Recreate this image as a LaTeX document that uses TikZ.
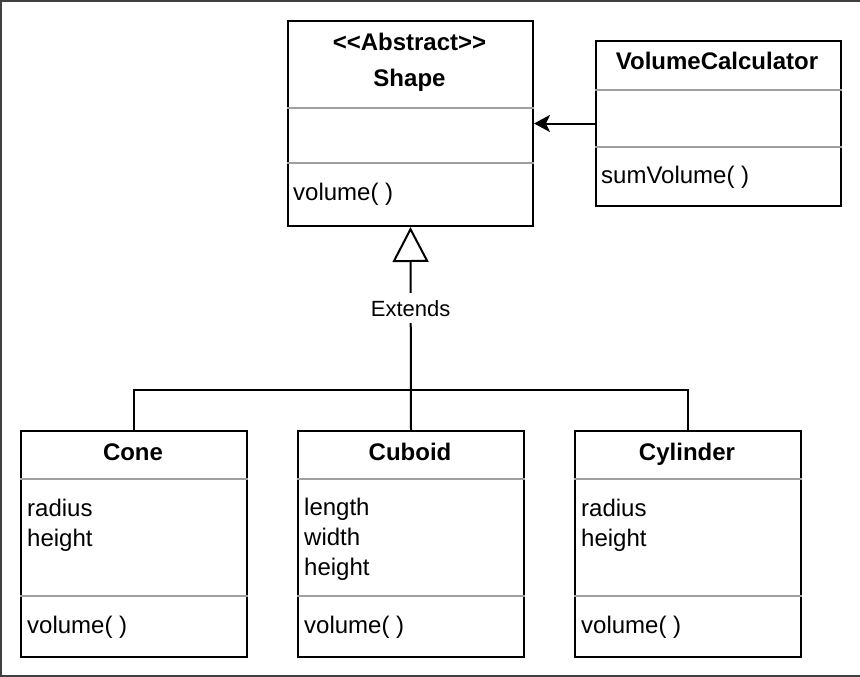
\documentclass[tikz,border=0pt]{standalone}
\usepackage{fontspec}
\setmainfont{Liberation Sans}[Ligatures=TeXOff]
\usetikzlibrary{positioning, arrows.meta, calc}

\begin{document}
\begin{tikzpicture}[
    x=1pt, y=-1pt,
    font=\fontsize{24}{30}\selectfont,
    classbox/.style={draw=black, line width=2pt, anchor=north west, inner sep=0pt},
    classname/.style={font=\fontsize{24}{36}\selectfont\bfseries, align=center, anchor=base},
    members/.style={align=left, anchor=base west, inner sep=0pt},
    divider/.style={draw=gray!75, line width=2pt},
    link/.style={draw=black, line width=2pt}
]
\useasboundingbox (0,0) rectangle (860,677);
\draw[line width=2pt, draw=black!75] (860,1) -- (1,1) -- (1,676) -- (860,676);

% classes
\node[classbox, minimum width=245pt, minimum height=205pt](shape) at (287,20) {};
\node[classbox, minimum width=245pt, minimum height=165pt](calc) at (595,40) {};
\node[classbox, minimum width=226pt, minimum height=226pt](cone) at (20,430) {};
\node[classbox, minimum width=226pt, minimum height=226pt](cuboid) at (297,430) {};
\node[classbox, minimum width=226pt, minimum height=226pt](cyl) at (574,430) {};

% dividers
\draw[divider] ([yshift=-88pt]shape.north west) -- ([yshift=-88pt]shape.north east);
\draw[divider] ([yshift=-143pt]shape.north west) -- ([yshift=-143pt]shape.north east);
\draw[divider] ([yshift=-50pt]calc.north west) -- ([yshift=-50pt]calc.north east);
\draw[divider] ([yshift=-107pt]calc.north west) -- ([yshift=-107pt]calc.north east);
\foreach \c in {cone, cuboid, cyl} {
    \draw[divider] ([yshift=-49pt]\c.north west) -- ([yshift=-49pt]\c.north east);
    \draw[divider] ([yshift=-166pt]\c.north west) -- ([yshift=-166pt]\c.north east);
}

% texts (base = last line)
\node[classname](shape_t) at (409.5,87) {<<Abstract>>\\Shape};
\node[classname](calc_t) at (717,70) {VolumeCalculator};
\node[classname](cone_t) at (133,460) {Cone};
\node[classname](cuboid_t) at (410,460) {Cuboid};
\node[classname](cyl_t) at (687,460) {Cylinder};

\node[members](shape_m) at (293,200) {volume( )};
\node[members](calc_m) at (601,183) {sumVolume( )};
\node[members](cone_a) at (27,546) {radius\\height};
\node[members](cone_m) at (27,633) {volume( )};
\node[members](cuboid_a) at (304,575) {length\\width\\height};
\node[members](cuboid_m) at (304,633) {volume( )};
\node[members](cyl_a) at (581,546) {radius\\height};
\node[members](cyl_m) at (581,633) {volume( )};

% connectors
\coordinate (join) at (410,390);
\draw[link, -{Stealth[length=16pt, width=17pt, inset=4pt]}] (calc.west) -- (calc.west -| shape.east);
\draw[link] (cone.north) |- (join);
\draw[link] (cyl.north) |- (join);
\draw[link, -{Triangle[open, length=35pt, width=36pt, line width=2pt]}] (cuboid.north) -- (shape.south)
    node[pos=0.6, fill=white, inner sep=7pt, font=\fontsize{22}{26}\selectfont]{Extends};
\end{tikzpicture}
\end{document}
